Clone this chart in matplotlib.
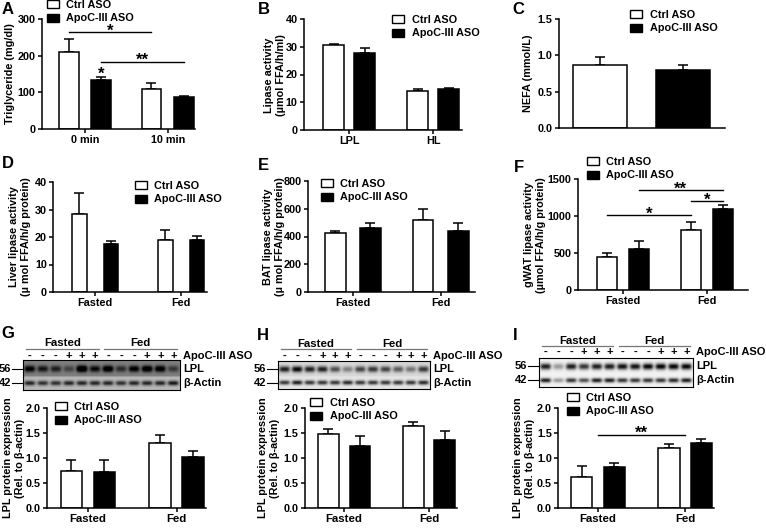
import numpy as np
import matplotlib
matplotlib.use("Agg")
import matplotlib.pyplot as plt
from matplotlib.patches import Patch
from matplotlib.lines import Line2D
from matplotlib.ticker import FormatStrFormatter

plt.rcParams["font.family"] = ["Liberation Sans", "DejaVu Sans"]
plt.rcParams["font.weight"] = "bold"
plt.rcParams["axes.labelweight"] = "bold"

# ---------------------------------------------------------------------------
# data (means and upper SEM)
# ---------------------------------------------------------------------------
TIME = ["0 min", "10 min"]
TG_CTRL, TG_CTRL_ERR = [210, 110], [35, 15]
TG_APOC, TG_APOC_ERR = [133, 88], [9, 3]

LIPASE = ["LPL", "HL"]
PHL_CTRL, PHL_CTRL_ERR = [30.5, 14.2], [0.5, 0.6]
PHL_APOC, PHL_APOC_ERR = [27.8, 14.6], [1.8, 0.6]

NEFA_CTRL, NEFA_CTRL_ERR = [0.87], [0.11]
NEFA_APOC, NEFA_APOC_ERR = [0.80], [0.07]

STATE = ["Fasted", "Fed"]
LIVER_CTRL, LIVER_CTRL_ERR = [28.5, 18.8], [7.5, 3.9]
LIVER_APOC, LIVER_APOC_ERR = [17.3, 18.8], [1.2, 1.4]
BAT_CTRL, BAT_CTRL_ERR = [425, 522], [15, 78]
BAT_APOC, BAT_APOC_ERR = [458, 440], [37, 55]
GWAT_CTRL, GWAT_CTRL_ERR = [440, 815], [55, 100]
GWAT_APOC, GWAT_APOC_ERR = [560, 1095], [105, 55]
LPL_G_CTRL, LPL_G_CTRL_ERR = [0.74, 1.30], [0.23, 0.17]
LPL_G_APOC, LPL_G_APOC_ERR = [0.73, 1.02], [0.24, 0.13]
LPL_H_CTRL, LPL_H_CTRL_ERR = [1.48, 1.65], [0.10, 0.08]
LPL_H_APOC, LPL_H_APOC_ERR = [1.24, 1.37], [0.21, 0.18]
LPL_I_CTRL, LPL_I_CTRL_ERR = [0.62, 1.21], [0.22, 0.08]
LPL_I_APOC, LPL_I_APOC_ERR = [0.83, 1.31], [0.07, 0.07]

# significance: (group1, series1, group2, series2, y, label); series -1 ctrl, +1 apoc, 0 centre
SIG_A = [(0, -1, 1, -1, 264, "*"), (0, 1, 1, 1, 183, "**"), (0, 1, 0, 1, 145, "*")]
SIG_F = [(0, 1, 1, 1, 1350, "**"), (1, -1, 1, 1, 1200, "*"), (0, -1, 1, -1, 1010, "*")]
SIG_I = [(0, 0, 1, 0, 1.47, "**")]

# western blot lanes
ASO_SIGNS = ["-", "-", "-", "+", "+", "+"] * 2
BLOT_G_LPL = [0.55, 0.45, 0.4, 0.25, 0.75, 0.5, 0.65, 0.35, 0.55, 0.65, 0.6, 0.3]
BLOT_G_ACT = [0.6, 0.55, 0.55, 0.6, 0.6, 0.6, 0.6, 0.55, 0.6, 0.6, 0.6, 0.65]
BLOT_H_LPL = [0.75, 0.85, 0.75, 0.75, 0.55, 0.35, 0.6, 0.65, 0.6, 0.5, 0.4, 0.65]
BLOT_H_ACT = [0.7, 0.8, 0.7, 0.7, 0.7, 0.75, 0.7, 0.7, 0.7, 0.7, 0.7, 0.75]
BLOT_I_LPL = [0.85, 0.35, 0.85, 0.75, 0.85, 0.85, 0.9, 0.9, 0.95, 0.95, 0.95, 0.95]
BLOT_I_ACT = [0.85, 0.35, 0.75, 0.65, 0.85, 0.85, 0.75, 0.75, 0.75, 0.75, 0.8, 0.85]

# ---------------------------------------------------------------------------
W, H = 766, 531
fig = plt.figure(figsize=(W / 100, H / 100), dpi=100)
fig.patch.set_facecolor("white")

FS = 7.8


def fx(x):
    return x / W


def fy(y):
    return 1 - y / H


def px_axes(x0, y0, x1, y1):
    return fig.add_axes([fx(x0), fy(y1), (x1 - x0) / W, (y1 - y0) / H])


def ftext(x, y, s, **kw):
    kw.setdefault("fontsize", FS)
    kw.setdefault("ha", "center")
    kw.setdefault("va", "center")
    fig.text(fx(x), fy(y), s, **kw)


def style(ax, ylim, yticks, fmt=None):
    for s in ["top", "right"]:
        ax.spines[s].set_visible(False)
    for s in ["left", "bottom"]:
        ax.spines[s].set_linewidth(1.1)
    ax.set_ylim(*ylim)
    ax.set_yticks(yticks)
    if fmt:
        ax.yaxis.set_major_formatter(FormatStrFormatter(fmt))
    ax.tick_params(direction="out", length=3, width=1.1, labelsize=FS, pad=1.5)


def legend(x, y):
    handles = [Patch(facecolor="white", edgecolor="black", lw=1.0, label="Ctrl ASO"),
               Patch(facecolor="black", edgecolor="black", lw=1.0, label="ApoC-III ASO")]
    fig.legend(handles=handles, loc="upper left", bbox_to_anchor=(fx(x), fy(y)),
               bbox_transform=fig.transFigure, frameon=False, fontsize=FS,
               handlelength=1.1, handleheight=0.8, handletextpad=0.7,
               labelspacing=0.32, borderpad=0, borderaxespad=0)


def grouped(ax, groups, ctrl, ctrl_err, apoc, apoc_err, xlim, width, off):
    x = np.arange(len(groups))
    for pos, vals, errs, col in [(x - off, ctrl, ctrl_err, "white"),
                                 (x + off, apoc, apoc_err, "black")]:
        ax.bar(pos, vals, width, color=col, edgecolor="black", lw=1.1, zorder=2)
        ax.errorbar(pos, vals, yerr=[np.zeros(len(x)), errs], fmt="none", ecolor="black",
                    elinewidth=1.1, capsize=3.5, capthick=1.1, zorder=1)
    ax.set_xlim(*xlim)
    ax.set_xticks(x)
    ax.set_xticklabels(groups)


def sig(ax, marks, off, star_fs=12):
    for g1, s1, g2, s2, y, lab in marks:
        x1, x2 = g1 + s1 * off, g2 + s2 * off
        if x1 != x2:
            ax.plot([x1, x2], [y, y], color="black", lw=1.0, clip_on=False)
        ax.annotate(lab, ((x1 + x2) / 2, y), xytext=(0, -4.5), textcoords="offset points",
                    ha="center", va="bottom", fontsize=star_fs, annotation_clip=False)


def blot(x0, y0, x1, y1, lpl, act, bg_top, bg_bot, head_y, line_y, sign_y):
    ax = px_axes(x0, y0, x1, y1)
    cols = np.linspace(0, 12, 300)
    rows = np.linspace(0, 2, 60)
    img = np.where(rows[:, None] < 1.1, bg_top, bg_bot) * np.ones((1, cols.size))
    for i in range(12):
        xp = np.exp(-((cols - (i + 0.5)) / 0.42) ** 4)
        img -= lpl[i] * np.outer(np.exp(-((rows - 0.58) / 0.22) ** 2), xp)
        img -= act[i] * np.outer(np.exp(-((rows - 1.55) / 0.16) ** 2), xp)
    ax.imshow(np.clip(img, 0, 1), cmap="gray", vmin=0, vmax=1, extent=(0, 12, 2, 0),
              aspect="auto", interpolation="bilinear")
    ax.set_xticks([])
    ax.set_yticks([])
    for s in ax.spines.values():
        s.set_linewidth(0.8)
    lane = (x1 - x0) / 12
    for i, sgn in enumerate(ASO_SIGNS):
        ftext(x0 + (i + 0.5) * lane, sign_y, sgn, fontsize=8)
    for k, name in enumerate(["Fasted", "Fed"]):
        a = x0 + 6 * k * lane + 3
        b = x0 + 6 * (k + 1) * lane - 3
        fig.add_artist(Line2D([fx(a), fx(b)], [fy(line_y), fy(line_y)],
                              transform=fig.transFigure, color="#777777", lw=0.9))
        ftext((a + b) / 2, head_y, name, fontsize=8.2)
    ftext(x1 + 3, sign_y, "ApoC-III ASO", ha="left", fontsize=8)
    yl = y0 + 0.58 / 2 * (y1 - y0)
    ya = y0 + 1.55 / 2 * (y1 - y0)
    ftext(x1 + 3, yl, "LPL", ha="left", fontsize=8)
    ftext(x1 + 3, ya, "β-Actin", ha="left", fontsize=8)
    for yy, mw in [(yl, "56"), (ya, "42")]:
        ftext(x0 - 12, yy, mw, ha="right", fontsize=8)
        fig.add_artist(Line2D([fx(x0 - 11), fx(x0)], [fy(yy), fy(yy)],
                              transform=fig.transFigure, color="black", lw=0.8))


# ---------------------------------------------------------------------------
# A
ax = px_axes(42, 19, 195, 129)
grouped(ax, TIME, TG_CTRL, TG_CTRL_ERR, TG_APOC, TG_APOC_ERR, (-0.52, 1.33), 0.235, 0.196)
style(ax, (0, 300), [0, 100, 200, 300])
sig(ax, SIG_A, 0.196)
ftext(10, 74, "Triglyceride (mg/dl)", rotation=90)
legend(47, 0)

# B
ax = px_axes(304, 19, 462, 130)
grouped(ax, LIPASE, PHL_CTRL, PHL_CTRL_ERR, PHL_APOC, PHL_APOC_ERR, (-0.54, 1.34), 0.25, 0.185)
style(ax, (0, 40), [0, 10, 20, 30, 40])
ftext(275, 75, "Lipase activity\n(µmol FFA/h/ml)", rotation=90, linespacing=1.2)
legend(392, 15)

# C
ax = px_axes(559, 19, 725, 128)
for pos, vals, errs, col in [(0, NEFA_CTRL, NEFA_CTRL_ERR, "white"), (1, NEFA_APOC, NEFA_APOC_ERR, "black")]:
    ax.bar([pos], vals, 0.65, color=col, edgecolor="black", lw=1.1, zorder=2)
    ax.errorbar([pos], vals, yerr=[[0], errs], fmt="none", ecolor="black",
                elinewidth=1.1, capsize=3.5, capthick=1.1, zorder=1)
ax.set_xlim(-0.49, 1.5)
ax.set_xticks([])
style(ax, (0, 1.5), [0, 0.5, 1.0, 1.5], "%.1f")
ftext(528, 73, "NEFA (mmol/L)", rotation=90)
legend(630, 10)

# D
ax = px_axes(53, 182, 207, 292)
grouped(ax, STATE, LIVER_CTRL, LIVER_CTRL_ERR, LIVER_APOC, LIVER_APOC_ERR, (-0.49, 1.30), 0.17, 0.183)
style(ax, (0, 40), [0, 10, 20, 30, 40])
ftext(20, 237, "Liver lipase activity\n(µ mol FFA/h/g protein)", rotation=90, linespacing=1.2)
legend(135, 181)

# E
ax = px_axes(308, 181, 475, 292)
grouped(ax, STATE, BAT_CTRL, BAT_CTRL_ERR, BAT_APOC, BAT_APOC_ERR, (-0.51, 1.39), 0.235, 0.2)
style(ax, (0, 800), [0, 200, 400, 600, 800])
ftext(274, 237, "BAT lipase activity\n(µ mol FFA/h/g protein)", rotation=90, linespacing=1.2)
legend(321, 179)

# F
ax = px_axes(578, 179, 748, 290)
grouped(ax, STATE, GWAT_CTRL, GWAT_CTRL_ERR, GWAT_APOC, GWAT_APOC_ERR, (-0.535, 1.49), 0.245, 0.19)
style(ax, (0, 1500), [0, 500, 1000, 1500])
sig(ax, SIG_F, 0.19)
ftext(535, 235, "gWAT lipase activity\n(µmol FFA/h/g protein)", rotation=90, linespacing=1.2)
legend(587, 157)

# G, H, I
bottom = [
    (47, 206, LPL_G_CTRL, LPL_G_CTRL_ERR, LPL_G_APOC, LPL_G_APOC_ERR, 0, 55, 402),
    (305, 457, LPL_H_CTRL, LPL_H_CTRL_ERR, LPL_H_APOC, LPL_H_APOC_ERR, 255, 310, 398),
    (558, 714, LPL_I_CTRL, LPL_I_CTRL_ERR, LPL_I_APOC, LPL_I_APOC_ERR, 510, 567, 393),
]
for i, (xa, xb, c, ce, a, ae, ox, lx, ly) in enumerate(bottom):
    ax = px_axes(xa, 408, xb, 508)
    grouped(ax, STATE, c, ce, a, ae, (-0.46, 1.33), 0.243, 0.186)
    style(ax, (0, 2.0), [0, 0.5, 1.0, 1.5, 2.0], "%.1f")
    ax.tick_params(axis="x", labelsize=8.2)
    if i == 2:
        sig(ax, SIG_I, 0.186)
    ftext(ox + 14, 458, "LPL protein expression\n(Rel. to β-actin)", rotation=90, linespacing=1.2)
    legend(lx, ly)

blot(23, 360, 180, 390, BLOT_G_LPL, BLOT_G_ACT, 0.5, 0.72, 343, 349, 356)
blot(278, 361, 430, 389, BLOT_H_LPL, BLOT_H_ACT, 0.85, 0.9, 344, 349, 356)
blot(539, 358, 693, 387, BLOT_I_LPL, BLOT_I_ACT, 0.95, 0.95, 341, 346, 352)

# panel letters
for lab, (x, y) in zip("ABCDEFGHI", [(8, 9), (264, 9), (518, 9), (8, 164), (263, 165),
                                     (519, 168), (8, 333), (263, 335), (515, 336)]):
    ftext(x, y, lab, fontsize=12)

fig.savefig("out.png", dpi=100, facecolor="white")
